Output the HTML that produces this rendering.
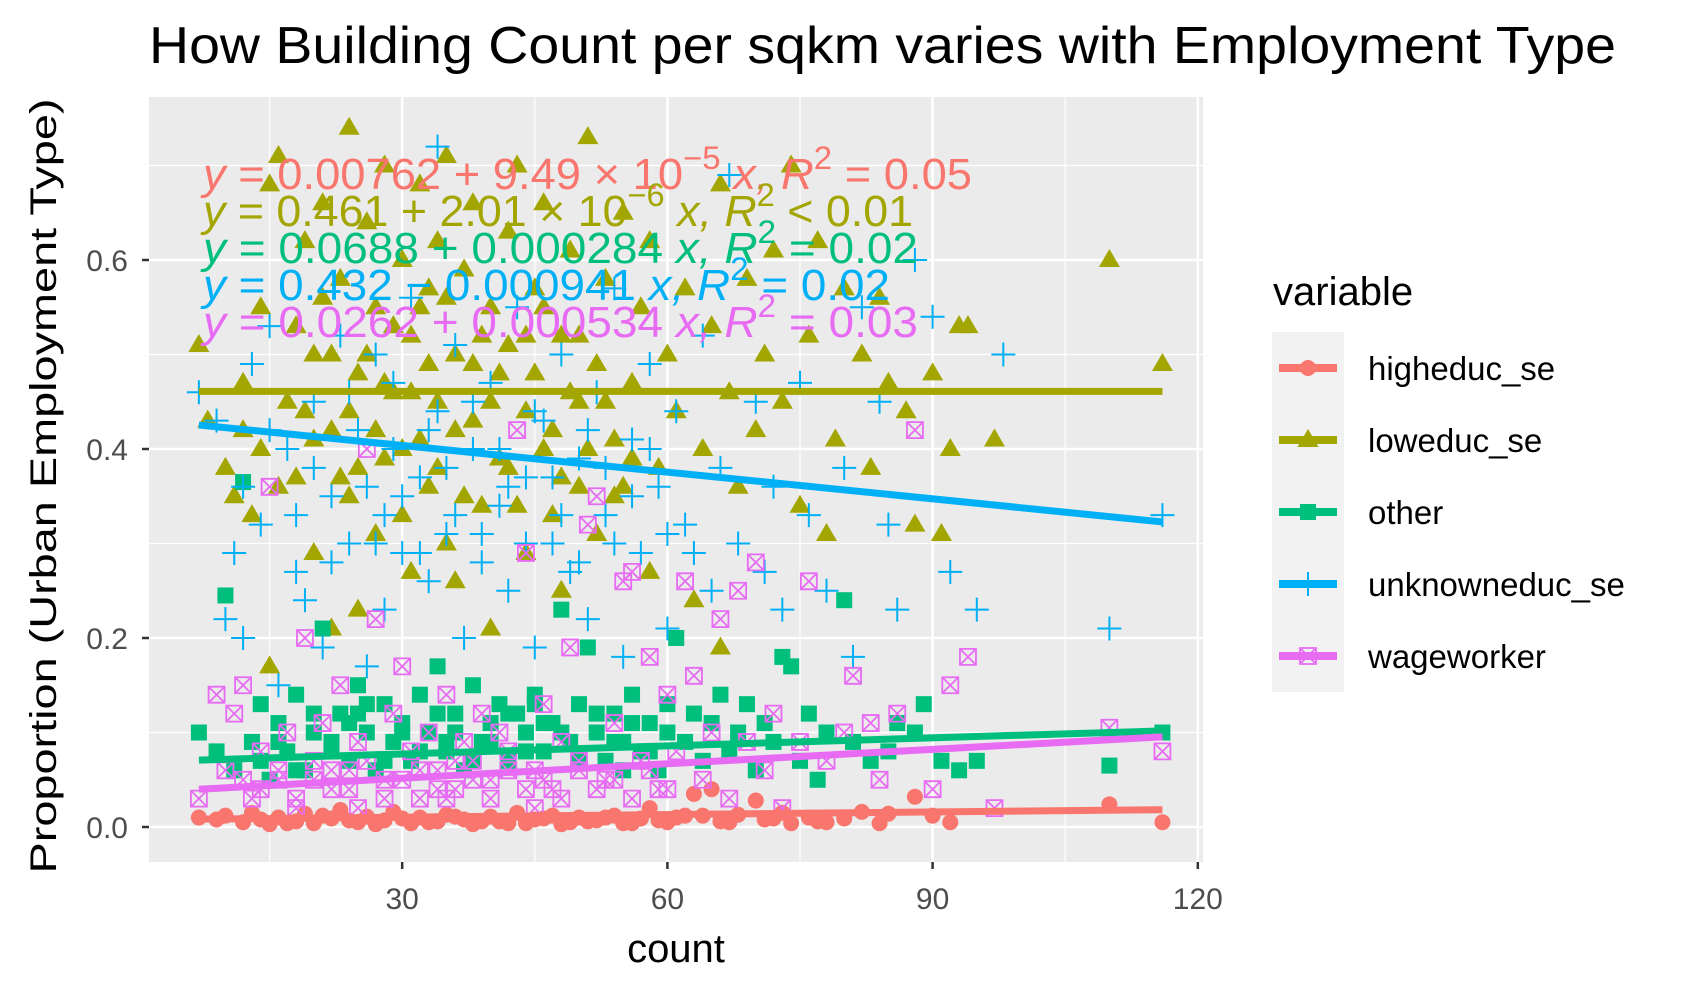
<!DOCTYPE html>
<html><head><meta charset="utf-8"><style>
html,body{margin:0;padding:0;background:#fff;}
svg{display:block;font-family:"Liberation Sans",Arial,sans-serif;}
</style></head><body>
<svg id="chart" width="1704" height="995" viewBox="0 0 1704 995">
<rect width="1704" height="995" fill="#fff"/>
<text x="149" y="63" font-size="52" textLength="1467" lengthAdjust="spacingAndGlyphs" fill="#000">How Building Count per sqkm varies with Employment Type</text>
<rect x="149" y="97" width="1054" height="765" fill="#EBEBEB"/>
<g id="grid"></g>
<g id="points"></g>
<g id="lines"></g>
<g id="eqs"></g>
<g id="axes"></g>
<text transform="translate(56,486) rotate(-90)" text-anchor="middle" font-size="37" textLength="775" lengthAdjust="spacingAndGlyphs" fill="#000">Proportion (Urban Employment Type)</text>
<text x="676" y="962" text-anchor="middle" font-size="40" fill="#000">count</text>
<g id="legend">
<text x="1273" y="305" font-size="40" fill="#000">variable</text>
<rect x="1272" y="332" width="72" height="360" fill="#F2F2F2"/>
</g>
</svg>
<script>
const NS="http://www.w3.org/2000/svg";
const seriesNames=["higheduc_se","loweduc_se","other","unknowneduc_se","wageworker"];
const seriesColors=["#F8766D","#A3A500","#00BF7D","#00B0F6","#E76BF3"];
const xTicks=[30,60,90,120];
const xTickLabels=["30","60","90","120"];
const yTicks=[0,0.2,0.4,0.6];
const yTickLabels=["0.0","0.2","0.4","0.6"];
const xMinor=[15,45,75,105];
const yMinor=[0.1,0.3,0.5,0.7];
const high_x=[7,9,10,12,13,15,16,18,19,20,22,23,25,26,28,29,31,32,34,35,37,38,40,41,43,44,46,47,49,50,52,54,55,57,58,60,61,63,64,65,66,68,70,71,73,74,76,78,80,82,84,85,88,90,92,110,116,14,17,21,24,27,30,33,36,39,42,45,48,51,53,56,59,62,67,72,77];
const high_y=[0.01,0.008,0.012,0.005,0.015,0.003,0.01,0.006,0.014,0.004,0.009,0.018,0.005,0.011,0.007,0.016,0.004,0.01,0.006,0.013,0.008,0.003,0.011,0.006,0.015,0.004,0.009,0.012,0.005,0.01,0.007,0.012,0.004,0.009,0.02,0.005,0.01,0.035,0.012,0.04,0.006,0.013,0.028,0.008,0.015,0.004,0.01,0.005,0.009,0.016,0.004,0.014,0.032,0.012,0.005,0.024,0.005,0.008,0.004,0.012,0.007,0.003,0.009,0.005,0.011,0.006,0.004,0.008,0.003,0.006,0.01,0.004,0.007,0.012,0.005,0.009,0.006];
const low_x=[7,8,10,11,12,13,14,15,15,16,17,18,19,20,20,21,22,22,23,24,24,25,25,26,27,27,28,28,29,30,30,31,31,32,32,33,33,34,34,35,35,36,36,37,38,38,39,40,40,41,42,42,43,44,44,45,46,46,47,48,48,49,50,50,51,52,52,53,54,55,55,56,57,58,58,59,60,61,62,63,64,65,66,66,67,68,69,70,71,72,73,74,75,76,77,78,79,80,82,83,84,85,87,88,90,91,92,93,94,97,110,116,18,20,21,23,24,26,27,29,30,31,33,34,35,36,37,39,40,41,42,43,45,46,47,48,49,50,51,53,54,56,12,14,16,19,22,25,28,32,38,44];
const low_y=[0.51,0.43,0.38,0.35,0.47,0.33,0.55,0.68,0.17,0.71,0.45,0.37,0.62,0.50,0.29,0.66,0.42,0.21,0.58,0.74,0.35,0.48,0.23,0.64,0.31,0.55,0.70,0.39,0.46,0.60,0.33,0.52,0.27,0.68,0.41,0.57,0.36,0.62,0.45,0.30,0.71,0.50,0.26,0.59,0.43,0.66,0.34,0.55,0.21,0.48,0.63,0.38,0.70,0.44,0.29,0.57,0.40,0.66,0.33,0.52,0.25,0.61,0.45,0.36,0.73,0.49,0.31,0.58,0.41,0.65,0.36,0.47,0.55,0.27,0.62,0.38,0.50,0.44,0.57,0.24,0.40,0.53,0.19,0.68,0.46,0.36,0.58,0.42,0.50,0.61,0.45,0.70,0.34,0.52,0.62,0.31,0.41,0.57,0.50,0.38,0.56,0.47,0.44,0.32,0.48,0.31,0.40,0.53,0.53,0.41,0.60,0.49,0.53,0.41,0.56,0.37,0.44,0.50,0.42,0.53,0.40,0.46,0.49,0.38,0.56,0.42,0.35,0.52,0.45,0.39,0.51,0.34,0.48,0.55,0.42,0.37,0.46,0.52,0.40,0.45,0.35,0.39,0.42,0.40,0.36,0.44,0.50,0.38,0.47,0.55,0.49,0.52];
const other_x=[7,9,10,11,12,13,14,15,16,17,18,19,20,21,22,23,24,25,26,27,28,29,30,31,32,33,34,35,36,37,38,39,40,41,42,43,44,45,46,47,48,49,50,51,52,53,54,55,56,57,58,59,60,61,62,63,64,65,66,67,68,69,70,71,72,73,74,75,76,77,78,80,81,83,85,86,88,89,91,93,95,110,116,14,16,18,20,22,24,26,28,30,32,34,36,38,40,42,44,46,48,50,52,54,56,58,60,25,35,45,55];
const other_y=[0.10,0.08,0.245,0.06,0.365,0.09,0.13,0.05,0.11,0.08,0.14,0.06,0.10,0.21,0.09,0.12,0.07,0.15,0.10,0.06,0.13,0.09,0.11,0.07,0.14,0.10,0.17,0.08,0.12,0.06,0.15,0.09,0.11,0.13,0.07,0.12,0.10,0.14,0.08,0.11,0.23,0.09,0.13,0.19,0.10,0.07,0.12,0.09,0.14,0.08,0.11,0.06,0.13,0.20,0.09,0.12,0.07,0.11,0.14,0.08,0.10,0.13,0.06,0.11,0.09,0.18,0.17,0.07,0.12,0.05,0.10,0.24,0.09,0.07,0.08,0.11,0.10,0.13,0.07,0.06,0.07,0.065,0.10,0.07,0.09,0.06,0.12,0.08,0.11,0.13,0.07,0.10,0.08,0.12,0.10,0.07,0.09,0.12,0.08,0.11,0.10,0.07,0.12,0.09,0.11,0.08,0.10,0.12,0.09,0.13,0.06];
const unk_x=[7,9,10,11,12,13,14,15,16,17,18,19,20,21,22,23,24,25,26,27,28,28,29,30,31,32,33,34,34,35,36,37,38,39,40,41,42,43,44,45,46,47,48,49,50,51,52,53,54,55,56,57,58,59,60,61,62,64,65,66,67,68,70,71,72,73,75,76,78,80,81,82,84,85,86,88,90,92,95,98,110,116,12,15,18,20,22,24,26,27,29,30,32,33,35,36,38,39,41,42,44,45,47,48,50,51,53,54,56,58,60,63];
const unk_y=[0.46,0.43,0.22,0.29,0.20,0.49,0.32,0.53,0.15,0.40,0.27,0.24,0.45,0.19,0.35,0.52,0.30,0.42,0.17,0.50,0.33,0.23,0.47,0.29,0.56,0.37,0.26,0.72,0.44,0.31,0.51,0.20,0.40,0.28,0.47,0.34,0.25,0.55,0.37,0.19,0.43,0.30,0.50,0.27,0.39,0.22,0.46,0.33,0.57,0.18,0.41,0.29,0.49,0.36,0.21,0.44,0.32,0.52,0.25,0.38,0.69,0.30,0.45,0.27,0.36,0.23,0.47,0.33,0.25,0.38,0.18,0.55,0.45,0.32,0.23,0.60,0.54,0.27,0.23,0.50,0.21,0.33,0.36,0.42,0.33,0.38,0.28,0.46,0.36,0.30,0.40,0.35,0.29,0.42,0.38,0.33,0.45,0.31,0.40,0.36,0.30,0.44,0.37,0.33,0.28,0.42,0.38,0.30,0.35,0.40,0.31,0.29];
const wage_x=[7,9,10,11,12,13,14,15,16,17,18,19,20,21,22,23,24,25,26,27,28,29,30,31,32,33,34,35,36,37,38,39,40,41,42,43,44,45,46,47,48,49,50,51,52,53,54,55,56,57,58,59,60,61,62,63,64,65,66,67,68,69,70,71,72,73,75,76,78,80,81,83,84,86,88,90,92,94,97,110,116,12,14,16,18,20,22,24,26,28,30,32,34,36,38,40,42,44,46,48,50,52,54,56,58,60,25,35,45];
const wage_y=[0.03,0.14,0.06,0.12,0.15,0.03,0.08,0.36,0.05,0.10,0.02,0.20,0.07,0.11,0.04,0.15,0.06,0.09,0.40,0.22,0.05,0.12,0.17,0.08,0.03,0.10,0.06,0.14,0.04,0.09,0.07,0.12,0.05,0.10,0.08,0.42,0.29,0.06,0.13,0.04,0.09,0.19,0.07,0.32,0.35,0.05,0.11,0.26,0.27,0.07,0.18,0.04,0.14,0.08,0.26,0.16,0.05,0.10,0.22,0.03,0.25,0.09,0.28,0.06,0.12,0.02,0.09,0.26,0.07,0.10,0.16,0.11,0.05,0.12,0.42,0.04,0.15,0.18,0.02,0.105,0.08,0.05,0.04,0.06,0.03,0.05,0.06,0.04,0.07,0.03,0.05,0.06,0.04,0.07,0.05,0.03,0.06,0.04,0.05,0.03,0.06,0.04,0.05,0.03,0.06,0.04,0.02,0.03,0.02];
const fit_x=[7,116];
const fit_high=[0.0083,0.0183];
const fit_low=[0.461,0.461];
const fit_other=[0.0708,0.1017];
const fit_unk=[0.4254,0.3228];
const fit_wage=[0.0399,0.0954];
const eqTexts=[
 ["y"," = 0.00762 + 9.49 × 10","−5"," x, R","2"," = 0.05"],
 ["y"," = 0.461 + 2.01 × 10","−6"," x, R","2"," < 0.01"],
 ["y"," = 0.0688 + 0.000284 ","",  "x, R","2"," = 0.02"],
 ["y"," = 0.432 − 0.000941 ","",   "x, R","2"," = 0.02"],
 ["y"," = 0.0262 + 0.000534 ","",  "x, R","2"," = 0.03"]];
const eqWidths=[769,710,715,687,715];

const X0=137, XS=8.84, Y0=827, YS=945;
const sx=v=>X0+v*XS, sy=v=>Y0-v*YS;
const g=id=>document.getElementById(id);
function mk(tag,attrs,parent){const e=document.createElementNS(NS,tag);for(const k in attrs)e.setAttribute(k,attrs[k]);parent.appendChild(e);return e;}

const grid=g('grid');
xMinor.forEach(v=>{const l=mk('line',{x1:sx(v),x2:sx(v),y1:97,y2:862,stroke:'#fff','stroke-width':1.2},grid);

});
yMinor.forEach(v=>{const l=mk('line',{x1:149,x2:1203,y1:sy(v),y2:sy(v),stroke:'#fff','stroke-width':1.2},grid);

});
xTicks.forEach(v=>{const l=mk('line',{x1:sx(v),x2:sx(v),y1:97,y2:862,stroke:'#fff','stroke-width':2.5},grid);

});
yTicks.forEach(v=>{const l=mk('line',{x1:149,x2:1203,y1:sy(v),y2:sy(v),stroke:'#fff','stroke-width':2.5},grid);

});

const axes=g('axes');
xTicks.forEach((v,i)=>{
 const t=mk('line',{x1:sx(v),x2:sx(v),y1:862,y2:869,stroke:'#333','stroke-width':2.5},axes);
 
 
 const lb=mk('text',{x:sx(v),y:909,'text-anchor':'middle','font-size':30,fill:'#4D4D4D'},axes);
 lb.textContent=xTickLabels[i];
 
 });
yTicks.forEach((v,i)=>{
 const t=mk('line',{x1:142,x2:149,y1:sy(v),y2:sy(v),stroke:'#333','stroke-width':2.5},axes);
 
 
 const lb=mk('text',{x:128,y:sy(v)+11,'text-anchor':'end','font-size':30,fill:'#4D4D4D'},axes);
 lb.textContent=yTickLabels[i];
 
 });

function marker(type,x,y,c,parent){
 let e;
 if(type===0){e=mk('circle',{cx:x,cy:y,r:8,fill:c},parent);}
 else if(type===1){e=mk('polygon',{points:`${x},${y-11} ${x-10.5},${y+7} ${x+10.5},${y+7}`,fill:c},parent);}
 else if(type===2){e=mk('rect',{x:x-8,y:y-8,width:16,height:16,fill:c},parent);}
 else if(type===3){e=mk('path',{d:`M${x-12},${y}H${x+12}M${x},${y-12}V${y+12}`,stroke:c,'stroke-width':2,fill:'none'},parent);}
 else {e=mk('path',{d:`M${x-8},${y-8}h16v16h-16zM${x-8},${y-8}L${x+8},${y+8}M${x+8},${y-8}L${x-8},${y+8}`,stroke:c,'stroke-width':1.8,fill:'none'},parent);}
 return e;}

const pts=g('points');
const allX=[high_x,low_x,other_x,unk_x,wage_x], allY=[high_y,low_y,other_y,unk_y,wage_y];
allX.forEach((xs,s)=>{xs.forEach((xv,i)=>{
 const m=marker(s,sx(xv),sy(allY[s][i]),seriesColors[s],pts);
 
 });});

const lines=g('lines');
[fit_high,fit_low,fit_other,fit_unk,fit_wage].forEach((f,s)=>{
 const l=mk('line',{x1:sx(fit_x[0]),y1:sy(f[0]),x2:sx(fit_x[1]),y2:sy(f[1]),stroke:seriesColors[s],'stroke-width':7},lines);
 
 });

const eqs=g('eqs');
eqTexts.forEach((p,i)=>{
 const base=189+i*37;
 const t=mk('text',{x:203,y:base,'font-size':44,fill:seriesColors[i],textLength:eqWidths[i],lengthAdjust:'spacingAndGlyphs'},eqs);
 
 
 const a=mk('tspan',{'font-style':'italic'},t);a.textContent=p[0];
 const b=mk('tspan',{},t);b.textContent=p[1];
 if(p[2]){const c=mk('tspan',{dy:-20,'font-size':32},t);c.textContent=p[2];
  const d=mk('tspan',{dy:20,'font-style':'italic'},t);d.textContent=p[3];}
 else{const d=mk('tspan',{'font-style':'italic'},t);d.textContent=p[3];}
 const e=mk('tspan',{dy:-20,'font-size':32},t);e.textContent=p[4];
 const f=mk('tspan',{dy:20},t);f.textContent=p[5];});

const leg=g('legend');
seriesNames.forEach((n,s)=>{
 const cy=368+s*72;
 const l=mk('line',{x1:1279,x2:1337,y1:cy,y2:cy,stroke:seriesColors[s],'stroke-width':8},leg);
 
 
 const m=marker(s,1308,cy,seriesColors[s],leg);
 
 
 const t=mk('text',{x:1368,y:cy+12,'font-size':33,fill:'#000'},leg);
 t.textContent=n;
 
 });
</script>
</body></html>
